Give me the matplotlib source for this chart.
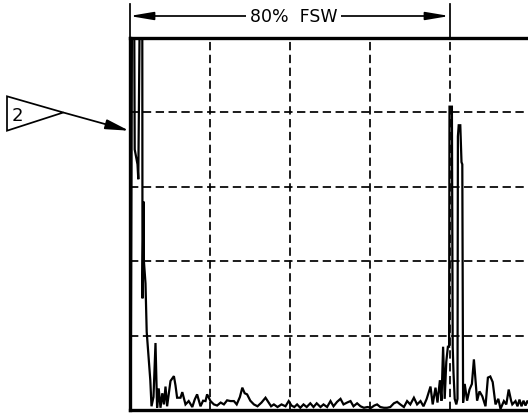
import matplotlib
matplotlib.use("Agg")
import matplotlib.pyplot as plt
from matplotlib.patches import Polygon

# ---- data: A-scan trace, x in % of full screen width, y in % of full screen height
trace_x = [0.0, 0.3, 0.6, 1.2, 1.3, 2.0, 2.2, 2.5, 3.2, 3.25, 3.5, 3.6, 4.0, 4.3, 5.2, 5.5,
           6.0, 6.5, 6.9, 7.3, 7.75, 8.2, 8.6, 9.0, 9.4, 10.25, 11.1, 11.5,
           11.9, 12.75, 13.2, 14.0, 14.8, 15.7, 16.3, 16.9, 17.75, 18.4, 19.0, 19.4, 20.25,
           21.1, 21.9, 22.8, 23.6, 24.4, 25.25, 26.1, 26.8, 27.6, 28.2, 28.8, 29.4, 30.2,
           31.1, 32.0, 33.0, 34.0, 34.8, 35.4, 36.1, 37.0, 38.0, 39.0, 39.8, 40.5, 41.2,
           41.9, 42.7, 43.5, 44.3, 45.2, 46.0, 46.8, 47.75, 48.5, 49.4, 50.25, 51.0, 51.9,
           52.75, 53.5, 54.4, 55.25, 56.0, 56.9, 57.75, 58.6, 59.5, 60.4, 61.2, 61.9, 62.7,
           63.6, 64.4, 65.2, 66.1, 66.9, 67.7, 68.6, 69.4, 70.2, 71.1, 71.9, 72.75,
           73.5, 74.3, 75.25, 75.8, 76.5, 77.0, 77.6, 78.0, 78.4, 78.8, 79.2, 79.6, 79.9,
           80.0, 80.6, 80.8, 81.0, 81.3, 81.7, 82.0, 82.1, 82.3, 82.7, 83.0, 83.2, 83.4,
           83.8, 84.4, 85.0, 85.6, 86.1, 86.5, 86.9, 87.5, 88.2, 89.0, 89.6, 90.2, 90.8,
           91.5, 92.2, 92.75, 93.6, 94.2, 94.8, 95.4, 95.7, 96.5, 97.0, 97.5, 98.0, 98.5,
           99.0, 99.5, 100.0, 100.5]
trace_y = [0.5, 0.5, 100, 100, 70, 66, 62, 100, 100, 30, 56, 40, 34, 21, 8, 1,
           3.5, 18, 0.6, 5.8, 0.6, 4.5, 1.5, 6.3, 1.0, 7.8, 9.1, 6.6,
           3.3, 3.3, 4.8, 1.5, 2.4, 0.8, 2.8, 4.2, 1.0, 2.5, 2.4, 4.2, 2.4,
           1.5, 1.2, 2.0, 1.5, 2.6, 2.4, 2.4, 1.5, 3.5, 6.0, 4.5, 4.2, 2.5,
           1.5, 1.0, 2.0, 3.3, 2.0, 1.0, 1.5, 0.8, 1.5, 1.0, 2.4, 1.2, 0.8,
           1.5, 0.6, 1.5, 0.8, 1.8, 0.8, 1.8, 0.8, 1.5, 0.8, 2.4, 1.0, 2.2,
           3.0, 1.5, 2.0, 2.4, 1.0, 1.8, 1.0, 0.6, 0.8, 0.6, 1.2, 1.5, 0.8,
           0.6, 0.6, 0.8, 1.8, 2.2, 1.5, 0.8, 2.4, 1.5, 3.3, 1.5, 2.4,
           1.0, 3.0, 6.3, 1.5, 6.0, 2.0, 8.0, 2.5, 17, 3.0, 13, 17, 17,
           81.5, 81.5, 17, 10, 3.0, 1.5, 3.0, 73.5, 76.5, 76.5, 66.6, 66, 2.0,
           7.0, 2.5, 5.5, 7.0, 13.6, 8.0, 2.5, 5.0, 3.7, 1.0, 8.7, 9.0, 7.5,
           1.5, 3.0, 0.3, 2.4, 1.5, 5.5, 2.5, 1.5, 2.4, 1.0, 2.8, 1.0, 2.5,
           1.2, 2.5, 1.5, 2.0]

grid_x = [20, 40, 60, 80]
grid_y = [20, 40, 60, 80]
span_label = "80%  FSW"
span_end = 80
callout_label = "2"

W, H = 528, 414
fig = plt.figure(figsize=(W / 100, H / 100), dpi=100)

left_px, top_px, bottom_px = 129.5, 38.8, 411.0
ax = fig.add_axes([left_px / W, (H - bottom_px) / H, 400 / W, (bottom_px - top_px) / H])
ax.set_xlim(0, 100)
ax.set_ylim(0, 100)
ax.set_xticks([])
ax.set_yticks([])
for v in grid_x:
    ax.axvline(v, color="black", lw=1.25, ls=(0, (4.8, 2.6)), zorder=1)
for v in grid_y:
    ax.axhline(v, color="black", lw=1.25, ls=(0, (4.8, 2.6)), zorder=1)

ax.plot(trace_x, trace_y, color="black", lw=1.6, zorder=2, solid_joinstyle="miter")

for s in ["left", "top", "bottom"]:
    ax.spines[s].set_linewidth(2.4)
    ax.spines[s].set_zorder(3)
ax.spines["right"].set_visible(False)

# dimension line above the plot
xt = ax.get_xaxis_transform()
y_dim = (bottom_px - 17) / (bottom_px - top_px)
y_ext = (bottom_px - 5) / (bottom_px - top_px)
for xv in [0, span_end]:
    ax.plot([xv, xv], [1.0, y_ext], transform=xt, color="black", lw=1.25, clip_on=False)
ax.annotate("", xy=(0, y_dim), xytext=(span_end, y_dim), xycoords=xt, textcoords=xt,
            arrowprops=dict(arrowstyle="<|-|>,head_length=0.95,head_width=0.16",
                            mutation_scale=15, color="black", lw=1.25,
                            shrinkA=0, shrinkB=0), annotation_clip=False)
ax.text(41, y_dim, span_label, transform=xt, ha="center", va="center",
        fontsize=12.5, color="black",
        bbox=dict(facecolor="white", edgecolor="none", pad=3.0), clip_on=False)

# callout flag with leader arrow
ov = fig.add_axes([0, 0, 1, 1])
ov.set_xlim(0, W)
ov.set_ylim(H, 0)
ov.axis("off")
ov.add_patch(Polygon([[7, 97.3], [7, 131.7], [63.3, 113.5]], closed=True,
                     facecolor="white", edgecolor="black", lw=1.25))
ov.text(17.5, 116, callout_label, ha="center", va="center", fontsize=13, color="black")
ov.annotate("", xy=(129, 131.7), xytext=(63.3, 113.5), xycoords="data",
            arrowprops=dict(arrowstyle="-|>,head_length=0.95,head_width=0.2",
                            mutation_scale=15, color="black", lw=1.25,
                            shrinkA=0, shrinkB=0))

fig.savefig("out.png", dpi=100)
